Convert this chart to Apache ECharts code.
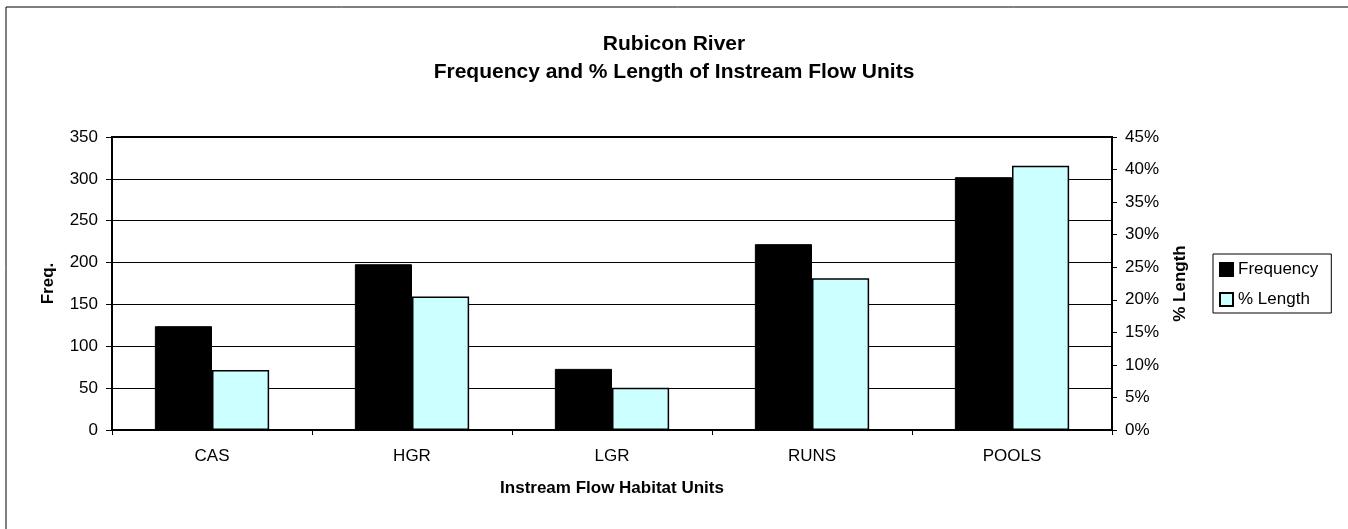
<!DOCTYPE html>
<html>
<head>
<meta charset="utf-8">
<title>Rubicon River</title>
<script src="https://cdn.jsdelivr.net/npm/echarts@6/dist/echarts.min.js"></script>
<style>
  html, body { margin: 0; padding: 0; background: #fff; }
  #chart { width: 1348px; height: 529px; }
</style>
</head>
<body>
<div id="chart"></div>
<script>
// 数据
const units = ['CAS', 'HGR', 'LGR', 'RUNS', 'POOLS']
const frequency = [124, 198, 73, 222, 302]
const pctLength = [9.2, 20.5, 6.5, 23.3, 40.6]

const font = "'Liberation Sans', Arial, sans-serif"

const myChart = echarts.init(document.querySelector('#chart'))
const option = {
  textStyle: { fontFamily: font, color: '#000' },
  animation: false,
  // 标题
  title: {
    text: 'Rubicon River\nFrequency and % Length of Instream Flow Units',
    left: 674,
    top: 30,
    padding: 0,
    textAlign: 'center',
    textStyle: {
      fontFamily: font,
      fontSize: 21,
      fontWeight: 'bold',
      color: '#000',
      lineHeight: 28
    }
  },
  // 外框
  graphic: [
    {
      type: 'rect',
      shape: { x: 6, y: 7, width: 1400, height: 600 },
      style: { fill: 'none', stroke: '#000', lineWidth: 1 },
      silent: true
    }
  ],
  legend: {
    orient: 'vertical',
    left: 1213,
    top: 254,
    padding: [7, 13, 5, 6],
    itemWidth: 13,
    itemHeight: 13,
    itemGap: 13,
    itemTextGap: 4,
    borderColor: '#000',
    borderWidth: 1,
    icon: 'rect',
    textStyle: { fontFamily: font, fontSize: 17, color: '#000' },
    data: ['Frequency', '% Length']
  },
  grid: {
    left: 112,
    right: 236,
    top: 137,
    height: 293,
    show: true,
    borderColor: '#000',
    borderWidth: 2,
    containLabel: false
  },
  xAxis: {
    type: 'category',
    data: units,
    name: 'Instream Flow Habitat Units',
    nameLocation: 'middle',
    nameGap: 50,
    nameTextStyle: { fontFamily: font, fontSize: 17, fontWeight: 'bold', color: '#000' },
    axisLine: { lineStyle: { color: '#000', width: 2 } },
    axisTick: { show: true, length: 5, lineStyle: { color: '#000' } },
    axisLabel: { fontFamily: font, fontSize: 17, color: '#000', margin: 18 },
    splitLine: { show: false }
  },
  yAxis: [
    {
      type: 'value',
      min: 0,
      max: 350,
      interval: 50,
      name: 'Freq.',
      nameLocation: 'middle',
      nameRotate: 90,
      nameGap: 55,
      nameTextStyle: { fontFamily: font, fontSize: 17, fontWeight: 'bold', color: '#000' },
      axisLine: { show: true, lineStyle: { color: '#000', width: 2 } },
      axisTick: { show: true, length: 6, lineStyle: { color: '#000' } },
      axisLabel: { fontFamily: font, fontSize: 17, color: '#000', margin: 14 },
      splitLine: { show: true, lineStyle: { color: '#000', width: 1 } }
    },
    {
      type: 'value',
      position: 'right',
      min: 0,
      max: 45,
      interval: 5,
      name: '% Length',
      nameLocation: 'middle',
      nameRotate: 90,
      nameGap: 60,
      nameTextStyle: { fontFamily: font, fontSize: 17, fontWeight: 'bold', color: '#000' },
      axisLine: { show: true, lineStyle: { color: '#000', width: 2 } },
      axisTick: { show: true, length: 5, lineStyle: { color: '#000' } },
      axisLabel: { fontFamily: font, fontSize: 17, color: '#000', margin: 13, formatter: '{value}%' },
      splitLine: { show: false }
    }
  ],
  series: [
    {
      name: 'Frequency',
      type: 'bar',
      yAxisIndex: 0,
      data: frequency,
      barGap: '0%',
      barCategoryGap: '42.86%',
      itemStyle: { color: '#000', borderColor: '#000', borderWidth: 1 }
    },
    {
      name: '% Length',
      type: 'bar',
      yAxisIndex: 1,
      data: pctLength,
      barGap: '0%',
      barCategoryGap: '42.86%',
      itemStyle: { color: '#CCFFFF', borderColor: '#000', borderWidth: 1.5 }
    }
  ]
}
myChart.setOption(option)
</script>
</body>
</html>
